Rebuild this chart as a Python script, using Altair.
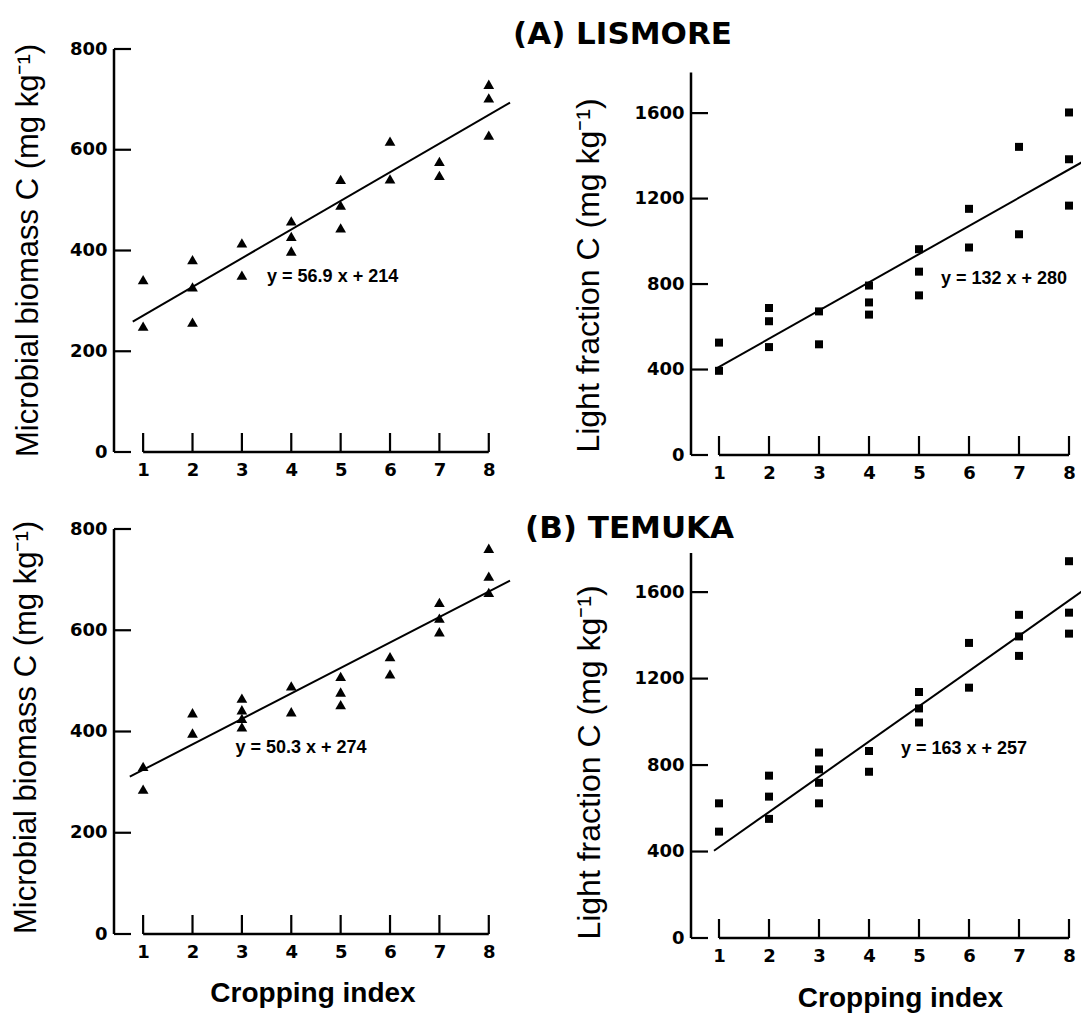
import altair as alt
import pandas as pd

# ---------------- data ----------------
X_TICKS = [1, 2, 3, 4, 5, 6, 7, 8]
MB_TICKS = [0, 200, 400, 600, 800]
LF_TICKS = [0, 400, 800, 1200, 1600]

# (A) LISMORE - microbial biomass C
A_MB_X = [1, 1, 2, 2, 2, 3, 3, 4, 4, 4, 5, 5, 5, 6, 6, 7, 7, 8, 8, 8]
A_MB_Y = [342, 250, 382, 328, 258, 415, 351, 459, 428, 399, 541, 490, 445,
          617, 542, 577, 549, 730, 703, 629]
# (A) LISMORE - light fraction C
A_LF_X = [1, 1, 2, 2, 2, 3, 3, 4, 4, 4, 5, 5, 5, 6, 6, 7, 7, 8, 8, 8]
A_LF_Y = [526, 394, 688, 626, 505, 672, 518, 793, 714, 657, 963, 858, 747,
          1152, 971, 1442, 1033, 1603, 1384, 1167]
# (B) TEMUKA - microbial biomass C
B_MB_X = [1, 1, 2, 2, 3, 3, 3, 3, 4, 4, 5, 5, 5, 6, 6, 7, 7, 7, 8, 8, 8]
B_MB_Y = [331, 286, 437, 397, 466, 443, 426, 409, 490, 439, 509, 478, 453,
          548, 514, 655, 624, 597, 762, 707, 675]
# (B) TEMUKA - light fraction C
B_LF_X = [1, 1, 2, 2, 2, 3, 3, 3, 3, 4, 4, 5, 5, 5, 6, 6, 7, 7, 7, 8, 8, 8]
B_LF_Y = [623, 492, 751, 654, 551, 858, 780, 718, 623, 865, 769, 1138, 1062,
          997, 1365, 1158, 1495, 1395, 1305, 1743, 1505, 1408]

# regression lines as printed on the figure
SLOPES = [56.9, 132, 50.3, 163]
INTERCEPTS = [214, 280, 274, 257]
EQ_LABELS = ["y = 56.9 x + 214", "y = 132 x + 280", "y = 50.3 x + 274", "y = 163 x + 257"]
FIT_X = [[0.79, 8.43], [0.95, 8.9], [0.73, 8.43], [0.9, 8.34]]
EQ_POS = [(3.51, 348), (5.44, 824), (2.87, 367), (4.64, 874)]
AXIS_TOP = [800, 1790, 800, 1781]

TITLE_A = "(A) LISMORE"
TITLE_B = "(B) TEMUKA"
Y_MB = "Microbial biomass C (mg kg\u207b\u00b9)"
Y_LF = "Light fraction C (mg kg\u207b\u00b9)"
X_TITLE = "Cropping index"

TICK_FONT = "DejaVu Sans"
TEXT_FONT = "Liberation Sans"


def panel(px, py, shape, size, yticks, ytop, ydom, xdom, w, h, slope, icpt,
          fit_x, eq, eq_pos, ytitle, ytx, yty, ytsize=31, xtitle=None, xtpad=0,
          xtx=None, title=None):
    xs = alt.Scale(domain=xdom, nice=False, zero=False)
    ys = alt.Scale(domain=ydom, nice=False, zero=False)
    xkw = dict(values=X_TICKS, format="d", domain=False, ticks=False, grid=False,
               labelPadding=9, labelFont=TICK_FONT, labelFontSize=18,
               labelFontWeight="bold", labelColor="black", labelFlush=False)
    if xtitle:
        xkw.update(titleFont=TEXT_FONT, titleFontSize=28, titleFontWeight="bold",
                   titleColor="black", titlePadding=xtpad)
        if xtx is not None:
            xkw["titleX"] = xtx
    x_enc = alt.X("x:Q", scale=xs, axis=alt.Axis(**xkw),
                  title=xtitle if xtitle else None)
    ykw = dict(values=yticks, format="d", domain=False, ticks=False, grid=False,
               labelPadding=7, labelFont=TICK_FONT, labelFontSize=18,
               labelFontWeight="bold", labelColor="black", labelFlush=False,
               titleFont=TEXT_FONT, titleFontSize=ytsize, titleFontWeight="normal",
               titleColor="black", titleAngle=270, titleBaseline="bottom",
               titleX=ytx, titleY=yty)
    y_enc = alt.Y("y:Q", scale=ys, axis=alt.Axis(**ykw), title=ytitle)

    yline = alt.Chart(pd.DataFrame({"x": [xdom[0]], "y": [0], "y2": [ytop]})).mark_rule(
        color="black", strokeWidth=2.5).encode(x=x_enc, y=y_enc, y2="y2:Q")
    yt = alt.Chart(pd.DataFrame({"y": yticks})).mark_rule(
        color="black", strokeWidth=2.2).encode(y=y_enc, x=alt.value(0), x2=alt.value(17))
    xline = alt.Chart(pd.DataFrame({"x": [X_TICKS[0]], "x2": [X_TICKS[-1]], "y": [0]})).mark_rule(
        color="black", strokeWidth=2.5).encode(x=x_enc, x2="x2:Q", y=y_enc)
    xt = alt.Chart(pd.DataFrame({"x": X_TICKS})).mark_rule(
        color="black", strokeWidth=2.2).encode(x=x_enc, y=alt.value(h), y2=alt.value(h - 19))
    pts = alt.Chart(pd.DataFrame({"x": px, "y": py})).mark_point(
        shape=shape, filled=True, size=size, color="black", opacity=1, strokeWidth=0
    ).encode(x=x_enc, y=y_enc)
    fit = alt.Chart(pd.DataFrame({"x": fit_x, "y": [slope * v + icpt for v in fit_x]})).mark_line(
        color="black", strokeWidth=2, clip=True).encode(x=x_enc, y=y_enc)
    txt = alt.Chart(pd.DataFrame({"x": [eq_pos[0]], "y": [eq_pos[1]], "t": [eq]})).mark_text(
        align="left", baseline="middle", font=TEXT_FONT, fontSize=18, fontWeight="bold",
        color="black").encode(x=x_enc, y=y_enc, text="t:N")

    props = dict(width=w, height=h)
    if title is not None:
        props["title"] = title
    return alt.layer(yline, yt, xline, xt, pts, fit, txt).properties(**props)


tl = panel(A_MB_X, A_MB_Y, "triangle-up", 115, MB_TICKS, AXIS_TOP[0], [0, 800],
           [0.41, 8.45], 397, 403, SLOPES[0], INTERCEPTS[0], FIT_X[0], EQ_LABELS[0],
           EQ_POS[0], Y_MB, -70, 201)
tr = panel(A_LF_X, A_LF_Y, "square", 64, LF_TICKS, AXIS_TOP[1], [0, 1900],
           [0.44, 8.24], 390, 406, SLOPES[1], INTERCEPTS[1], FIT_X[1], EQ_LABELS[1],
           EQ_POS[1], Y_LF, -86, 226, ytsize=32,
           title=alt.TitleParams(TITLE_A, anchor="start", frame="group", dx=-178, offset=7,
                                 dy=33, baseline="alphabetic", font=TICK_FONT, fontSize=31,
                                 fontWeight="bold", color="black", orient="top"))
bl = panel(B_MB_X, B_MB_Y, "triangle-up", 115, MB_TICKS, AXIS_TOP[2], [0, 800],
           [0.41, 8.45], 397, 405, SLOPES[2], INTERCEPTS[2], FIT_X[2], EQ_LABELS[2],
           EQ_POS[2], Y_MB, -72, 198, xtitle=X_TITLE, xtpad=18)
br = panel(B_LF_X, B_LF_Y, "square", 64, LF_TICKS, AXIS_TOP[3], [0, 1892],
           [0.44, 8.24], 390, 409, SLOPES[3], INTERCEPTS[3], FIT_X[3], EQ_LABELS[3],
           EQ_POS[3], Y_LF, -85, 233, ytsize=32, xtitle=X_TITLE, xtpad=19, xtx=209,
           title=alt.TitleParams(TITLE_B, anchor="start", frame="group", dx=-166, offset=0,
                                 dy=40, baseline="alphabetic", font=TICK_FONT, fontSize=31,
                                 fontWeight="bold", color="black", orient="top"))

chart = alt.concat(
    tl, tr, bl, br, columns=2, spacing={"row": 74, "column": 180}, bounds="flush"
).properties(
    autosize=alt.AutoSizeParams(type="none"),
    padding={"left": 106, "top": 41, "right": 967, "bottom": 964},
    background="white",
).configure_view(strokeWidth=0)

chart.save("out.html", embed_options={"renderer": "svg", "actions": False})
